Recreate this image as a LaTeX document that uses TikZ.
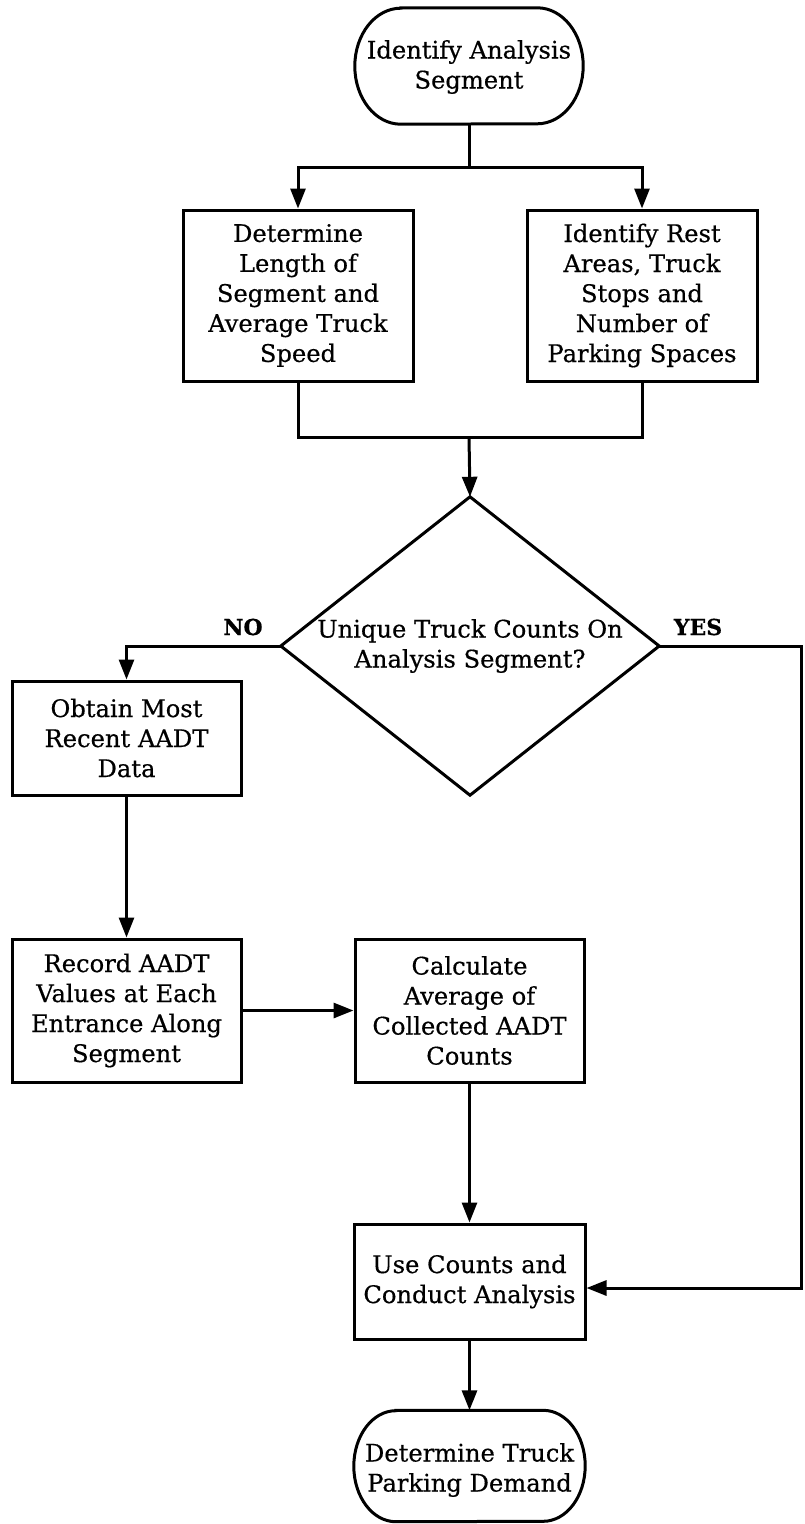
\documentclass[tikz,border=0pt]{standalone}
\usepackage{fontspec}
\setmainfont[FakeBold=0.5]{DejaVu Serif}
\usetikzlibrary{arrows.meta,calc}
\begin{document}
\begin{tikzpicture}[x=1pt,y=1pt,
  every node/.style={font=\fontsize{24.2}{30}\selectfont, align=center, inner sep=0pt},
  box/.style={draw, rectangle, line width=3pt},
  shell/.style={rectangle, draw=none},
  outline/.style={line width=3pt, line join=miter},
  conn/.style={line width=3pt},
  arr/.style={conn, -{Triangle[length=20pt,width=15pt]}},
  lbl/.style={font=\fontsize{22}{24}\selectfont\bfseries}]
\useasboundingbox (0,0) rectangle (804,-1524);

% start terminal: outline on an empty shell
\node[shell, minimum width=228, minimum height=116] (start) at (469,-66) {};
\node (starttext) at (469,-67) {Identify Analysis\\Segment};
\draw[outline] ($(start.north west)+(46,0)$) -- ($(start.north east)+(-46,0)$)
  arc[start angle=90, end angle=-90, x radius=46, y radius=58]
  -- ($(start.south west)+(46,0)$)
  arc[start angle=270, end angle=90, x radius=46, y radius=58] -- cycle;

% two parallel steps
\node[box, minimum width=230, minimum height=171] (len) at (298,-295.5)
  {Determine\\Length of\\Segment and\\Average Truck\\Speed};
\node[box, minimum width=230, minimum height=171] (rest) at (642,-295.5)
  {Identify Rest\\Areas, Truck\\Stops and\\Number of\\Parking Spaces};

% decision
\node[shell, minimum width=378, minimum height=298] (dec) at (470,-646)
  {Unique Truck Counts On\\Analysis Segment?};
\draw[outline] (dec.north) -- (dec.east) -- (dec.south) -- (dec.west) -- cycle;

% NO branch
\node[box, minimum width=229, minimum height=114] (obtain) at (126.5,-738)
  {Obtain Most\\Recent AADT\\Data};
\node[box, minimum width=229, minimum height=143] (record) at (126.5,-1010.5)
  {Record AADT\\Values at Each\\Entrance Along\\Segment};
\node[box, minimum width=229, minimum height=143] (calc) at (469.5,-1010.5)
  {Calculate\\Average of\\Collected AADT\\Counts};

% analysis and end terminal
\node[box, minimum width=231, minimum height=115] (use) at (469.5,-1281.5)
  {Use Counts and\\Conduct Analysis};
\node[shell, minimum width=231, minimum height=111] (finish) at (469.5,-1466) {};
\node (finishtext) at (469.5,-1470) {Determine Truck\\Parking Demand};
\draw[outline] ($(finish.north west)+(42,0)$) -- ($(finish.north east)+(-42,0)$)
  arc[start angle=90, end angle=-90, x radius=42, y radius=55.5]
  -- ($(finish.south west)+(42,0)$)
  arc[start angle=270, end angle=90, x radius=42, y radius=55.5] -- cycle;

% branch labels
\node[lbl] (nolbl) at (243,-627) {NO};
\node[lbl] (yeslbl) at (698,-627) {YES};

% connectors
\coordinate (split) at (469,-167);
\coordinate (join) at (469,-437);
\coordinate (yesR) at (801.6,-646);
\coordinate (yesB) at (801.6,-1288);

\draw[conn] (start.south) -- (split);
\draw[arr] (split) -| (len.north);
\draw[arr] (split) -| (rest.north);
\draw[conn] (len.south) |- (join);
\draw[conn] (rest.south) |- (join);
\draw[arr] (join) -- (dec.north);
\draw[arr] (dec.west) -| (obtain.north);
\draw[arr] (dec.east) -- (yesR) -- (yesB) -- (use.east |- yesB);
\draw[arr] (obtain.south) -- (record.north);
\draw[arr] (record.east) -- (calc.west);
\draw[arr] (calc.south) -- (use.north);
\draw[arr] (use.south) -- (finish.north);
\end{tikzpicture}
\end{document}
